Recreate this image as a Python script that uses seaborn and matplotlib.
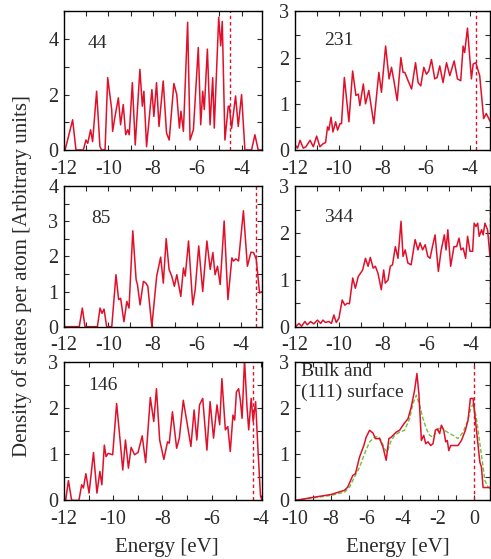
import numpy as np
import pandas as pd
import matplotlib
matplotlib.use("Agg")
import matplotlib.pyplot as plt
from matplotlib.ticker import MultipleLocator
import seaborn as sns

# 44 atoms
e44 = [-12.0, -11.95, -11.61, -11.46, -11.13, -11.01, -10.93, -10.80, -10.71, -10.53, -10.38, -10.30,
       -10.15, -10.03, -9.85, -9.81, -9.70, -9.55, -9.45, -9.33, -9.22, -9.13, -9.06, -8.92, -8.79,
       -8.58, -8.47, -8.40, -8.28, -8.04, -7.95, -7.83, -7.72, -7.53, -7.38, -7.26, -7.05, -6.92,
       -6.80, -6.73, -6.62, -6.43, -6.32, -6.17, -5.95, -5.84, -5.75, -5.68, -5.54, -5.42, -5.30,
       -5.23, -5.03, -4.94, -4.87, -4.75, -4.60, -4.55, -4.45, -4.27, -4.15, -4.00, -3.85, -3.55,
       -3.40, -3.25, -3.08]
d44 = [0, 0, 1.09, 0, 0, 0.36, 0.24, 0.73, 0.30, 2.12, 0.12, 0,
       0, 2.61, 1.46, 0.67, 1.21, 1.88, 0.91, 1.64, 0.55, 0.73, 0.55, 2.43, 0.18,
       2.91, 1.58, 2.12, 0.12, 2.18, 1.21, 2.43, 0.85, 2.49, 0.61, 0.36, 2.40, 2.00,
       0.79, 1.40, 0.67, 4.61, 0.36, 0.73, 3.70, 0.91, 2.12, 1.46, 3.64, 0.91, 2.61,
       0.79, 4.79, 3.76, 4.64, 0.36, 1.58, 1.58, 0.78, 1.95, 0.85, 2.00, 0, 0,
       0.55, 0, 0]

# 231 atoms
e231 = [-12.0, -11.88, -11.77, -11.62, -11.50, -11.31, -11.16, -11.01, -10.86, -10.70, -10.60, -10.51,
        -10.45, -10.35, -10.26, -10.14, -10.05, -9.94, -9.87, -9.74, -9.53, -9.36, -9.21, -9.10,
        -9.03, -8.87, -8.77, -8.62, -8.39, -8.16, -8.04, -7.85, -7.69, -7.58, -7.47, -7.32, -7.15,
        -7.05, -6.97, -6.82, -6.66, -6.48, -6.36, -6.24, -6.10, -5.98, -5.87, -5.75, -5.60, -5.49,
        -5.37, -5.22, -5.06, -4.91, -4.71, -4.56, -4.41, -4.30, -4.23, -4.10, -3.92, -3.84, -3.72,
        -3.54, -3.36, -3.24, -3.05]
d231 = [0.11, 0.04, 0.21, 0.04, 0.07, 0.21, 0.07, 0.30, 0.07, 0.14, 0.16, 0.50,
        0.43, 0.71, 0.39, 0.61, 0.43, 0.57, 0.57, 1.57, 0.61, 1.71, 1.18, 1.21,
        0.96, 1.43, 1.00, 1.29, 0.57, 1.68, 1.25, 2.25, 1.54, 1.79, 1.50, 1.07, 2.00,
        1.68, 1.68, 1.50, 1.32, 1.89, 1.46, 1.39, 1.79, 1.64, 1.71, 1.96, 1.54, 1.57,
        1.82, 1.46, 1.89, 1.61, 1.93, 1.54, 1.50, 2.25, 2.11, 2.64, 1.54, 1.86, 1.89,
        1.61, 0.68, 0.79, 0.61]

# 85 atoms
e85 = [-12.0, -11.31, -11.17, -11.05, -10.49, -10.37, -10.28, -10.19, -10.07, -9.84, -9.65, -9.53,
       -9.44, -9.29, -9.16, -9.06, -8.89, -8.74, -8.68, -8.56, -8.41, -8.30, -8.21, -8.03, -7.81,
       -7.63, -7.51, -7.38, -7.25, -7.13, -7.01, -6.90, -6.72, -6.60, -6.52, -6.37, -6.18, -6.07,
       -5.91, -5.73, -5.54, -5.39, -5.27, -5.17, -5.06, -4.94, -4.76, -4.59, -4.41, -4.34, -4.23,
       -4.11, -3.89, -3.71, -3.55, -3.43, -3.31, -3.16, -3.05]
d85 = [0, 0, 0.53, 0, 0, 0.53, 0.38, 0.50, 0, 0, 1.48, 0.77,
       0.81, 0.14, 0.72, 0.53, 2.73, 1.34, 1.20, 0.62, 1.29, 1.24, 1.15, 0, 1.44,
       1.98, 1.24, 2.51, 1.63, 1.44, 1.15, 1.48, 0.86, 1.67, 1.44, 2.44, 0.62, 1.05,
       2.30, 1.00, 2.44, 1.63, 2.11, 1.48, 1.72, 1.20, 3.01, 0.77, 1.96, 1.87, 1.93,
       1.87, 3.30, 1.72, 2.12, 2.11, 1.92, 0.96, 1.00]

# 344 atoms
e344 = [-11.97, -11.82, -11.70, -11.55, -11.44, -11.29, -11.14, -10.98, -10.83, -10.73, -10.61, -10.46,
        -10.34, -10.23, -10.12, -10.00, -9.85, -9.73, -9.62, -9.52, -9.37, -9.25, -9.12, -9.02,
        -8.92, -8.79, -8.67, -8.57, -8.44, -8.34, -8.22, -8.07, -7.96, -7.89, -7.76, -7.66, -7.56,
        -7.43, -7.31, -7.17, -7.08, -6.98, -6.86, -6.71, -6.53, -6.40, -6.30, -6.19, -6.07, -5.95,
        -5.85, -5.74, -5.62, -5.47, -5.35, -5.20, -5.12, -5.04, -4.91, -4.76, -4.64, -4.53, -4.44,
        -4.34, -4.23, -4.14, -4.03, -3.91, -3.84, -3.76, -3.68, -3.61, -3.50, -3.43, -3.35, -3.23,
        -3.12]
d344 = [0, 0.07, 0.01, 0.11, 0.04, 0.11, 0.06, 0.14, 0.07, 0.14, 0.09, 0.11,
        0.07, 0.25, 0.09, 0.18, 0.57, 0.46, 0.50, 0.49, 1.04, 0.82, 1.07, 1.14,
        1.21, 1.46, 1.29, 1.48, 1.25, 1.29, 1.14, 0.79, 1.21, 0.93, 1.00, 1.29, 1.32,
        1.71, 1.46, 2.25, 1.50, 1.64, 1.36, 1.32, 1.86, 1.64, 1.79, 1.64, 1.75, 1.50,
        1.46, 1.71, 1.96, 1.18, 1.61, 1.96, 1.64, 2.07, 1.29, 1.71, 1.71, 1.89, 1.64,
        1.68, 1.46, 1.93, 1.61, 1.61, 2.21, 2.14, 2.21, 1.93, 2.07, 1.96, 2.21, 2.07,
        1.50]

# 146 atoms
e146 = [-12.0, -11.93, -11.82, -11.69, -11.59, -11.45, -11.39, -11.28, -11.21, -11.11, -10.98, -10.80,
        -10.66, -10.54, -10.46, -10.36, -10.29, -10.20, -10.02, -9.86, -9.72, -9.61, -9.50, -9.38,
        -9.27, -9.13, -8.99, -8.82, -8.68, -8.49, -8.35, -8.24, -8.11, -7.94, -7.79, -7.72, -7.59,
        -7.42, -7.31, -7.15, -6.95, -6.84, -6.71, -6.60, -6.49, -6.36, -6.19, -6.06, -5.92, -5.78,
        -5.67, -5.58, -5.44, -5.34, -5.24, -5.13, -5.06, -4.99, -4.90, -4.83, -4.76, -4.66, -4.56,
        -4.49, -4.39, -4.31, -4.21, -4.12, -4.01, -3.95]
d146 = [0.09, 0.01, 0.43, 0.01, 0, 0, 0.01, 0.34, 0.27, 0.58, 0.16, 1.04,
        0.16, 0.63, 0.34, 1.20, 0.95, 1.02, 0.99, 2.10, 1.31, 0.66, 1.31, 0.70,
        1.15, 0.99, 1.04, 1.40, 0.82, 2.23, 1.71, 2.42, 1.31, 0.89, 1.27, 1.24, 1.92,
        1.13, 1.35, 2.17, 1.53, 1.17, 1.96, 1.31, 2.07, 2.21, 1.09, 2.14, 1.35, 2.07,
        1.64, 2.64, 1.53, 1.60, 1.06, 1.85, 1.74, 2.35, 2.42, 2.17, 1.78, 3.04, 2.03,
        1.53, 2.21, 1.71, 2.14, 1.17, 0.09, 0.02]

# (111) surface
e_surf = [-10.0, -9.10, -7.98, -7.23, -7.05, -6.77, -6.62, -6.39, -6.15, -6.02, -5.83, -5.64, -5.50,
          -5.27, -5.08, -4.90, -4.75, -4.62, -4.52, -4.34, -4.15, -3.91, -3.68, -3.50, -3.31, -3.18,
          -3.07, -2.93, -2.80, -2.69, -2.56, -2.41, -2.28, -2.15, -2.04, -1.91, -1.81, -1.68, -1.57,
          -1.48, -1.40, -1.29, -1.07, -0.88, -0.69, -0.47, -0.32, -0.19, -0.04, 0.15, 0.34, 0.43,
          0.52, 0.95]
d_surf = [0, 0.06, 0.13, 0.22, 0.29, 0.54, 0.58, 0.94, 1.19, 1.37, 1.52, 1.46, 1.34,
          1.34, 1.16, 0.87, 1.34, 1.37, 1.41, 1.48, 1.52, 1.66, 1.77, 2.02, 2.39, 2.75,
          2.31, 1.30, 1.41, 1.23, 1.27, 1.19, 1.23, 1.52, 1.55, 1.45, 1.63, 1.52, 1.27,
          1.30, 1.08, 1.19, 1.19, 1.19, 1.30, 1.52, 1.74, 2.21, 2.21, 1.52, 0.83, 0.72,
          0.28, 0.28]

# bulk
e_bulk = [-10.0, -7.98, -7.23, -6.95, -6.67, -6.39, -6.11, -5.83, -5.55, -5.33, -5.18, -4.99, -4.84,
          -4.65, -4.43, -4.15, -3.87, -3.59, -3.40, -3.21, -3.03, -2.84, -2.65, -2.47, -2.28, -2.09,
          -1.85, -1.63, -1.40, -1.16, -0.88, -0.60, -0.36, -0.17, -0.02, 0.15, 0.34, 0.47, 0.62,
          0.80, 0.95]
d_bulk = [0, 0.11, 0.18, 0.29, 0.51, 0.72, 1.01, 1.27, 1.37, 1.39, 1.30, 1.12, 1.05,
          1.27, 1.41, 1.48, 1.52, 1.77, 2.10, 2.28, 2.06, 1.77, 1.55, 1.41, 1.37, 1.48,
          1.61, 1.52, 1.46, 1.41, 1.34, 1.48, 1.70, 1.99, 2.10, 1.77, 1.23, 0.87, 0.43,
          0.29, 0.25]

red = "#e0102a"
green = "#6cc23a"
txt = "#2a2a2a"

sns.set_style("ticks")
plt.rcParams['font.family'] = ['Liberation Serif', 'DejaVu Serif']
plt.rcParams['axes.unicode_minus'] = False

fig = plt.figure(figsize=(4.91, 5.59), dpi=100)

left_x, left_w = 0.1303, 0.4033
right_x, right_w = 0.6008, 0.398
rows = [(0.7317, 0.2478), (0.4156, 0.2513), (0.1047, 0.2478)]

panels = [
    # (col, row, x, y, label, xlim, ylim, ymajor, yminor, fermi, label pos)
    (0, 0, e44, d44, "44", (-12, -3.08), (0, 5), 2, 1, -4.52, (0.12, 0.77)),
    (1, 0, e231, d231, "231", (-12, -3.05), (0, 3), 1, 0.5, -3.69, (0.15, 0.79)),
    (0, 1, e85, d85, "85", (-12, -3.05), (0, 4), 1, 0.5, -3.34, (0.14, 0.77)),
    (1, 1, e344, d344, "344", (-12, -3.1), (0, 3), 1, 0.5, -3.13, (0.15, 0.78)),
    (0, 2, e146, d146, "146", (-12, -3.95), (0, 3), 1, 0.5, -4.31, (0.12, 0.83)),
]

axes = []
for col, row, xs, ys, lab, xl, yl, ymaj, ymin, ef, lp in panels:
    x0, w = (left_x, left_w) if col == 0 else (right_x, right_w)
    b, h = rows[row]
    ax = fig.add_axes([x0, b, w, h])
    sns.lineplot(x=xs, y=ys, ax=ax, color=red, lw=1.1, errorbar=None)
    ax.axvline(ef, color=red, lw=1.0, ls=(0, (2.5, 2)))
    ax.set_xlim(*xl)
    ax.set_ylim(*yl)
    ax.xaxis.set_major_locator(MultipleLocator(2))
    ax.xaxis.set_minor_locator(MultipleLocator(1))
    ax.yaxis.set_major_locator(MultipleLocator(ymaj))
    ax.yaxis.set_minor_locator(MultipleLocator(ymin))
    ax.text(lp[0], lp[1], lab, transform=ax.transAxes, fontsize=14, ha="left", va="center",
            color=txt)
    axes.append(ax)

# bulk and surface panel
b, h = rows[2]
ax = fig.add_axes([right_x, b, right_w, h])
sns.lineplot(x=e_bulk, y=d_bulk, ax=ax, color=green, lw=1.0, errorbar=None, linestyle=(0, (3, 1.5)))
sns.lineplot(x=e_surf, y=d_surf, ax=ax, color=red, lw=1.1, errorbar=None)
ax.axvline(0, color=red, lw=1.0, ls=(0, (2.5, 2)))
ax.set_xlim(-10, 0.93)
ax.set_ylim(0, 3)
ax.xaxis.set_major_locator(MultipleLocator(2))
ax.xaxis.set_minor_locator(MultipleLocator(1))
ax.yaxis.set_major_locator(MultipleLocator(1))
ax.yaxis.set_minor_locator(MultipleLocator(0.5))
ax.text(0.03, 0.99, "Bulk and\n(111) surface", transform=ax.transAxes, fontsize=14,
        ha="left", va="top", color=txt, linespacing=1.2)
axes.append(ax)

for ax in axes:
    ax.tick_params(which="both", direction="in", top=True, right=True, length=3.5,
                   width=0.8, labelsize=14.5, colors=txt)
    ax.tick_params(axis="x", pad=7)
    ax.tick_params(axis="y", pad=4)
    for s in ax.spines.values():
        s.set_linewidth(1.0)
        s.set_color("black")
    ax.set_xlabel("")
    ax.set_ylabel("")

fig.text(0.045, 0.506, "Density of states per atom [Arbitrary units]", rotation=90,
         ha="center", va="center", fontsize=15, color=txt)
fig.text(167 / 491, 0.02, "Energy [eV]", ha="center", va="center", fontsize=15, color=txt)
fig.text(398 / 491, 0.02, "Energy [eV]", ha="center", va="center", fontsize=15, color=txt)

fig.savefig("out.png", dpi=100)
